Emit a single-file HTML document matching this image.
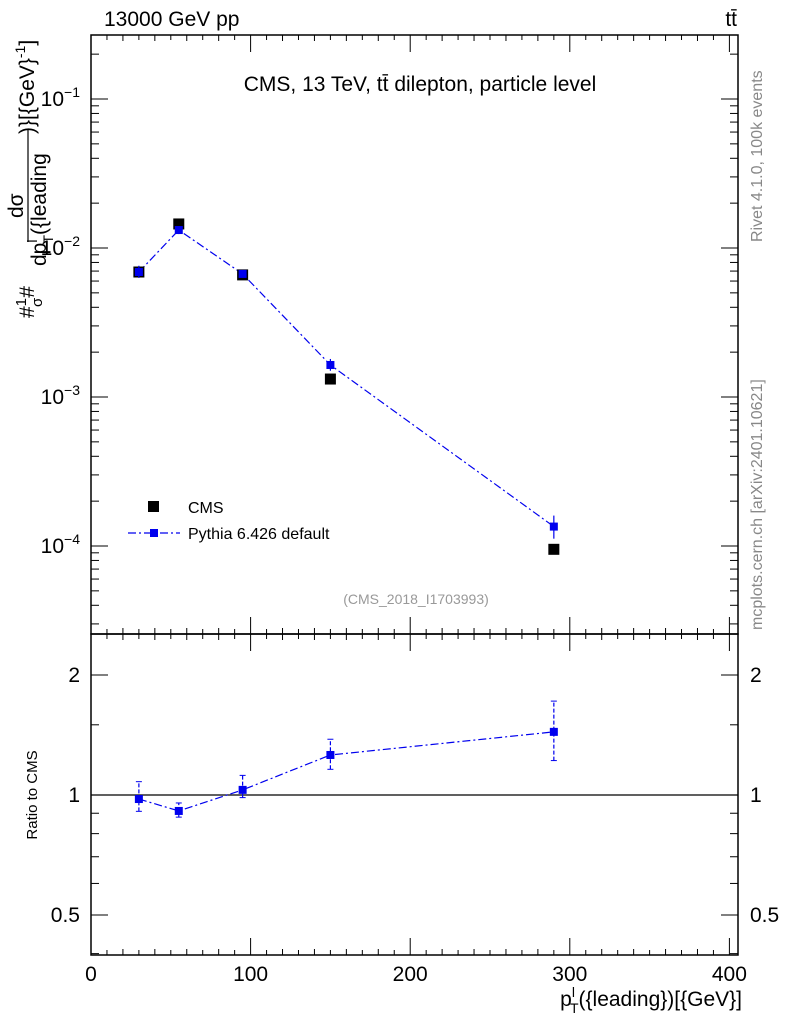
<!DOCTYPE html>
<html><head><meta charset="utf-8"><style>
body{margin:0;background:#fff;}
svg{display:block;font-family:"Liberation Sans",sans-serif;}
</style></head><body>
<svg id="c" width="786" height="1024"></svg>
<script>
const xCats=[30,55,95,150,290];
const cmsVals=[0.0069,0.0145,0.0066,0.00132,0.000095];
const pyVals=[0.0069,0.0132,0.0067,0.00164,0.000135];
const pyErrLo=[0.0063,0.0124,0.0064,0.00150,0.000112];
const pyErrHi=[0.0076,0.0140,0.0070,0.00180,0.000160];
const ratioVals=[0.977,0.912,1.03,1.26,1.44];
const ratioLo=[0.91,0.88,0.985,1.16,1.22];
const ratioHi=[1.08,0.955,1.12,1.38,1.72];
const xTicks=[0,100,200,300,400];
const yTicks=[-4,-3,-2,-1];
const rTicks=[0.5,1,2];

const NS="http://www.w3.org/2000/svg";
const svg=document.getElementById('c');
function el(t,a,txt){const e=document.createElementNS(NS,t);for(const k in a)e.setAttribute(k,a[k]);if(txt!==undefined)e.textContent=txt;svg.appendChild(e);return e;}
const L=91,R=738,T=35,M=634,B=955;
const XMAX=(R-L)/1.596;
const X=v=>L+1.596*v;
const Y=v=>248-149*(Math.log10(v)+2);
const RY=v=>795-120*Math.log2(v);

let f=el('rect',{x:L,y:T,width:R-L,height:M-T,fill:'none',stroke:'#000','stroke-width':1.5});

f=el('rect',{x:L,y:M,width:R-L,height:B-M,fill:'none',stroke:'#000','stroke-width':1.5});


for(let v=0;v<=XMAX;v+=10){
  const big=v%100===0, len=big?17:(v%20===0?6:5);
  for(const [y0,d] of [[M,-1],[T,1],[B,-1],[M,1]]){
    el('line',{x1:X(v),x2:X(v),y1:y0,y2:y0+d*len,stroke:'#000','stroke-width':1});
  }
}
xTicks.forEach(v=>{const t=el('text',{x:X(v),y:981,'font-size':21,'text-anchor':'middle'},String(v));
});
let t=el('text',{x:742,y:1006,'font-size':21,'text-anchor':'end'},'');

t.innerHTML='p<tspan font-size="14" dy="-9">l</tspan><tspan font-size="14" dx="-5" dy="16">T</tspan><tspan dy="-7">({leading})[{GeV}]</tspan>';

for(let d=-5;d<=0;d++){
  for(let m=1;m<10;m++){
    const v=m*Math.pow(10,d);const y=Y(v);
    if(y<T||y>M)continue;
    const len=m===1?17:8;
    el('line',{x1:L,x2:L+len,y1:y,y2:y,stroke:'#000'});
    el('line',{x1:R,x2:R-len,y1:y,y2:y,stroke:'#000'});
  }
}
yTicks.forEach(e=>{const t=el('text',{x:80,y:Y(Math.pow(10,e))+7,'font-size':21,'text-anchor':'end'},'');
t.innerHTML='10<tspan font-size="14" dy="-9">'+(e<0?'\u2212':'')+Math.abs(e)+'</tspan>';
});

[0.4,0.5,0.6,0.7,0.8,0.9,1,1.5,2].forEach(v=>{
  const y=RY(v);const len=(v===0.5||v===1||v===2)?17:8;
  el('line',{x1:L,x2:L+len,y1:y,y2:y,stroke:'#000'});
  el('line',{x1:R,x2:R-len,y1:y,y2:y,stroke:'#000'});
});
rTicks.forEach(v=>{
  let t=el('text',{x:80,y:RY(v)+7,'font-size':21,'text-anchor':'end'},String(v));
  
  t=el('text',{x:750,y:RY(v)+7,'font-size':21},String(v));
  
});
el('line',{x1:L,x2:R,y1:RY(1),y2:RY(1),stroke:'#000','stroke-width':1.2});
t=el('text',{x:0,y:0,'font-size':15,'text-anchor':'middle',transform:'translate(37,795) rotate(-90)'},'Ratio to CMS');


// y title
t=el('text',{x:0,y:0,'font-size':21,transform:'translate(34,318) rotate(-90)'},'');

t.innerHTML='#<tspan font-size="15" dy="-8">1</tspan><tspan font-size="15" dx="-9" dy="16">σ</tspan><tspan dy="-8">#</tspan>';
t=el('text',{x:0,y:0,'font-size':21,transform:'translate(23,218) rotate(-90)'},'dσ');
t=el('text',{x:0,y:0,'font-size':21,transform:'translate(46,266) rotate(-90)'},'');
t.innerHTML='dp<tspan font-size="14" dy="-9">l</tspan><tspan font-size="14" dx="-4" dy="16">T</tspan><tspan dy="-7">({leading</tspan>';
el('line',{x1:28,x2:28,y1:242,y2:130,stroke:'#000','stroke-width':1.2});
t=el('text',{x:0,y:0,'font-size':21,transform:'translate(34,134) rotate(-90)'},'');
t.innerHTML=')}[{GeV}<tspan font-size="14" dy="-9">-1</tspan><tspan dy="9">]</tspan>';

t=el('text',{x:104,y:26,'font-size':21},'13000 GeV pp');
t=el('text',{x:737,y:26,'font-size':21,'text-anchor':'end'},'tt̄');
t=el('text',{x:420,y:91,'font-size':21,'text-anchor':'middle'},'CMS, 13 TeV, tt̄ dilepton, particle level');
t=el('text',{x:416,y:604,'font-size':14,fill:'#999','text-anchor':'middle'},'(CMS_2018_I1703993)');
t=el('text',{x:0,y:0,'font-size':16,fill:'#888',transform:'translate(762,242) rotate(-90)'},'Rivet 4.1.0,  100k events');
t=el('text',{x:0,y:0,'font-size':16,fill:'#888',transform:'translate(762,630) rotate(-90)'},'mcplots.cern.ch [arXiv:2401.10621]');

let pts=xCats.map((x,i)=>X(x)+','+Y(pyVals[i])).join(' ');
let pl=el('polyline',{points:pts,fill:'none',stroke:'#0000ee','stroke-width':1.2,'stroke-dasharray':'8,3,2,3'});

xCats.forEach((x,i)=>{const r=el('rect',{x:X(x)-5.5,y:Y(cmsVals[i])-5.5,width:11,height:11,fill:'#000'});
});
xCats.forEach((x,i)=>{
  el('line',{x1:X(x),x2:X(x),y1:Y(pyErrLo[i]),y2:Y(pyErrHi[i]),stroke:'#0000ee','stroke-width':1.2});
  const r=el('rect',{x:X(x)-4,y:Y(pyVals[i])-4,width:8,height:8,fill:'#0000ee'});
  
});
pts=xCats.map((x,i)=>X(x)+','+RY(ratioVals[i])).join(' ');
pl=el('polyline',{points:pts,fill:'none',stroke:'#0000ee','stroke-width':1.2,'stroke-dasharray':'8,3,2,3'});

xCats.forEach((x,i)=>{
  el('line',{x1:X(x),x2:X(x),y1:RY(ratioLo[i]),y2:RY(ratioHi[i]),stroke:'#0000ee','stroke-width':1.2,'stroke-dasharray':'4,2'});
  el('line',{x1:X(x)-3,x2:X(x)+3,y1:RY(ratioLo[i]),y2:RY(ratioLo[i]),stroke:'#0000ee'});
  el('line',{x1:X(x)-3,x2:X(x)+3,y1:RY(ratioHi[i]),y2:RY(ratioHi[i]),stroke:'#0000ee'});
  const r=el('rect',{x:X(x)-4,y:RY(ratioVals[i])-4,width:8,height:8,fill:'#0000ee'});
  
});
let r=el('rect',{x:148,y:501,width:11,height:11,fill:'#000'});
t=el('text',{x:188,y:513,'font-size':16},'CMS');
el('line',{x1:128,x2:180,y1:533,y2:533,stroke:'#0000ee','stroke-width':1.2,'stroke-dasharray':'8,3,2,3'});
r=el('rect',{x:150,y:529,width:8,height:8,fill:'#0000ee'});
t=el('text',{x:188,y:539,'font-size':16},'Pythia 6.426 default');
</script>
</body></html>
